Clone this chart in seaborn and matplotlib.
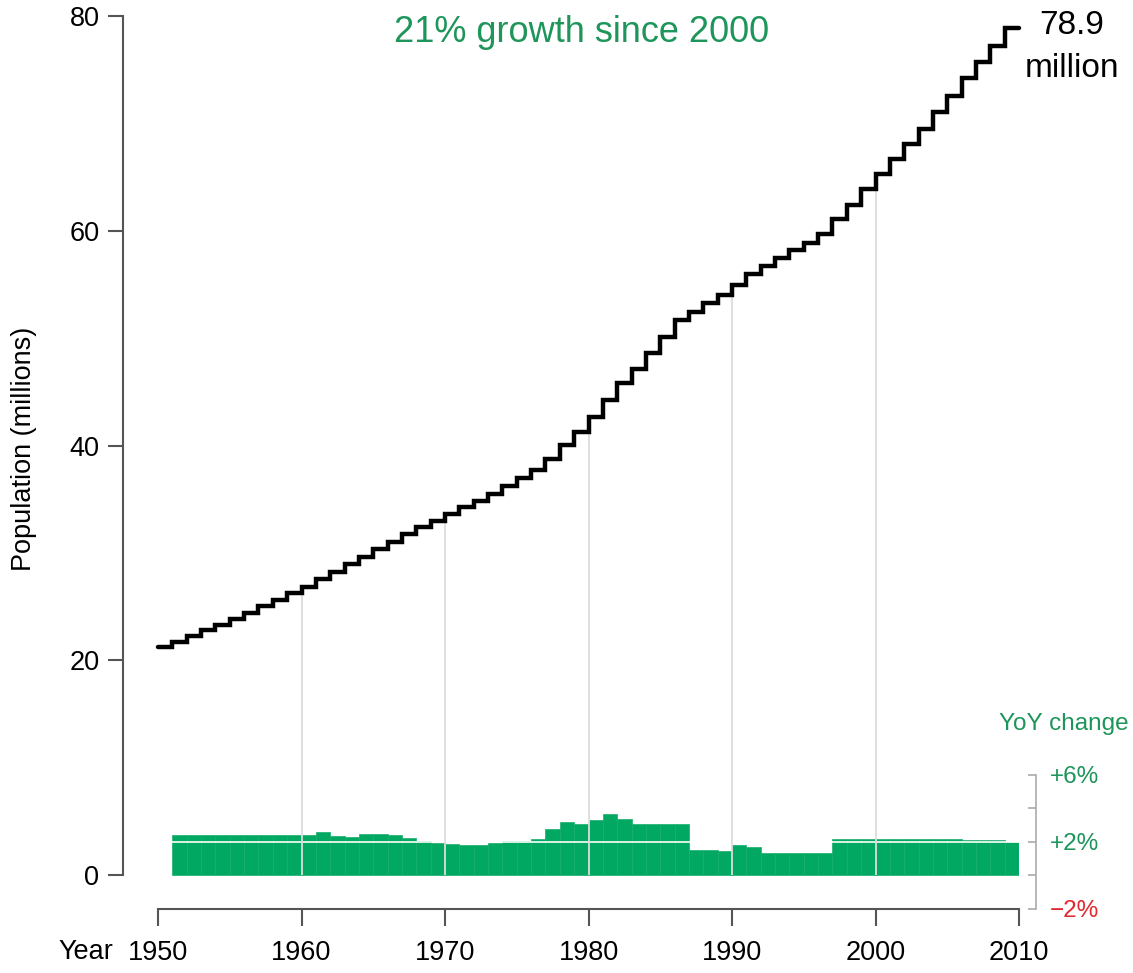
import numpy as np
import pandas as pd
import matplotlib
matplotlib.use('Agg')
import matplotlib.pyplot as plt
import seaborn as sns

# population (millions), value held from each year to the next
years = list(range(1950, 2010))
population = [21.26, 21.72, 22.22, 22.81, 23.28, 23.87, 24.43, 25.05, 25.60, 26.30,
              26.85, 27.53, 28.18, 28.93, 29.64, 30.35, 31.03, 31.72, 32.37, 32.99,
              33.58, 34.23, 34.85, 35.53, 36.22, 36.96, 37.71, 38.76, 40.06, 41.30,
              42.70, 44.23, 45.78, 47.11, 48.57, 50.12, 51.68, 52.45, 53.23, 54.00,
              54.93, 55.93, 56.70, 57.48, 58.19, 58.90, 59.74, 61.14, 62.44, 63.87,
              65.24, 66.67, 68.12, 69.52, 71.07, 72.56, 74.24, 75.73, 77.25, 78.90]

# year over year change (%)
yoy_years = list(range(1951, 2010))
yoy_change = [2.39, 2.39, 2.39, 2.39, 2.39, 2.39, 2.39, 2.39, 2.39, 2.39,
              2.54, 2.35, 2.27, 2.47, 2.47, 2.37, 2.19, 2.04, 1.92, 1.84,
              1.79, 1.79, 1.90, 2.02, 2.02, 2.12, 2.74, 3.15, 3.07, 3.28,
              3.63, 3.34, 3.07, 3.07, 3.07, 3.07, 1.50, 1.50, 1.46, 1.77,
              1.69, 1.32, 1.32, 1.32, 1.32, 1.32, 2.17, 2.17, 2.16, 2.16,
              2.15, 2.15, 2.14, 2.13, 2.12, 2.11, 2.10, 2.09, 2.00]

decades = [1950, 1960, 1970, 1980, 1990, 2000, 2010]
grid_years = [1960, 1970, 1980, 1990, 2000]
pct_ticks = [-2, 0, 2, 4, 6]
pct_labels = ['\u22122%', '', '+2%', '', '+6%']

GREEN = '#00a862'
TEXT_GREEN = '#1e955a'
RED = '#e0282e'
AXIS_GRAY = '#555555'

sns.set_style('white')
plt.rcParams['font.family'] = ['Liberation Sans', 'DejaVu Sans']
plt.rcParams['text.color'] = 'black'
plt.rcParams['axes.labelcolor'] = 'black'

pop_df = pd.DataFrame({'year': years + [2010], 'population': population + [population[-1]]})
pop_by_year = dict(zip(years, population))

fig = plt.figure(figsize=(11.33, 9.73), dpi=100)
ax = fig.add_axes([123 / 1133, 64 / 973, 896 / 1133, 893 / 973])
ax2 = ax.twinx()

# main axis drawn above the bars axis
ax.set_zorder(ax2.get_zorder() + 1)
ax.patch.set_visible(False)

px_year = 14.35
px_million = 10.74
px_pct = 16.75
ax.set_xlim(1950 - 35 / px_year, 2010)
ax.set_ylim(-34 / px_million, 80)
ax2.set_ylim(-34 / px_pct, 859 / px_pct)

# yoy bars
ax2.bar(yoy_years, yoy_change, width=1, align='edge', color=GREEN,
        edgecolor='#17ad6b', linewidth=0.5, zorder=2)
ax2.axhline(2, color='white', lw=1.2, zorder=3)

# vertical guide lines from zero up to the step line
for yr in grid_years:
    ax.vlines(yr, 0, pop_by_year[yr - 1], color='#dcdcdc', lw=1.3, zorder=1)

sns.lineplot(data=pop_df, x='year', y='population', drawstyle='steps-post',
             color='black', linewidth=3.2, solid_joinstyle='miter', ax=ax,
             clip_on=False, zorder=3)

# left / bottom axes
for s in ['top', 'right']:
    ax.spines[s].set_visible(False)
ax.spines['left'].set_bounds(0, 80)
ax.spines['bottom'].set_bounds(1950, 2010)
for s in ['left', 'bottom']:
    ax.spines[s].set_color(AXIS_GRAY)
    ax.spines[s].set_linewidth(1.5)
ax.set_xticks(decades)
ax.set_yticks([0, 20, 40, 60, 80])
ax.tick_params(axis='y', direction='out', length=11, width=1.5, color=AXIS_GRAY,
               pad=6, labelsize=19.5, labelcolor='black', left=True)
ax.tick_params(axis='x', direction='out', length=12, width=1.5, color=AXIS_GRAY,
               pad=10, labelsize=19.5, labelcolor='black', bottom=True)
ax.set_xlabel('')
ax.set_ylabel('Population (millions)', fontsize=19.5, color='black')
ax.yaxis.set_label_coords(-0.096, 0.515)
ax.text(1946.9, -7.85, 'Year', fontsize=19.5, ha='right', va='baseline', clip_on=False)

# right axis for yoy change
for s in ['left', 'top', 'bottom']:
    ax2.spines[s].set_visible(False)
ax2.spines['right'].set_position(('axes', (1036 - 123) / 896))
ax2.spines['right'].set_bounds(-2, 6)
ax2.spines['right'].set_color('#aaaaaa')
ax2.spines['right'].set_linewidth(1.2)
ax2.set_yticks(pct_ticks)
ax2.set_yticklabels(pct_labels)
ax2.tick_params(axis='y', direction='in', length=6, width=1.2, color='#aaaaaa',
                pad=10, labelsize=17.5, right=True)
for lab, val in zip(ax2.get_yticklabels(), pct_ticks):
    lab.set_color(RED if val < 0 else TEXT_GREEN)
ax2.grid(False)
ax.grid(False)

ax.text(1979.5, 77.6, '21% growth since 2000', color=TEXT_GREEN, fontsize=26,
        ha='center', va='baseline')
ax.text(2013.7, 78.3, '78.9', fontsize=24, ha='center', va='baseline', clip_on=False)
ax.text(2013.7, 74.3, 'million', fontsize=24, ha='center', va='baseline', clip_on=False)
ax.text(2013.1, 13.5, 'YoY change', color=TEXT_GREEN, fontsize=17.5,
        ha='center', va='baseline', clip_on=False)

fig.savefig('out.png', dpi=100)
